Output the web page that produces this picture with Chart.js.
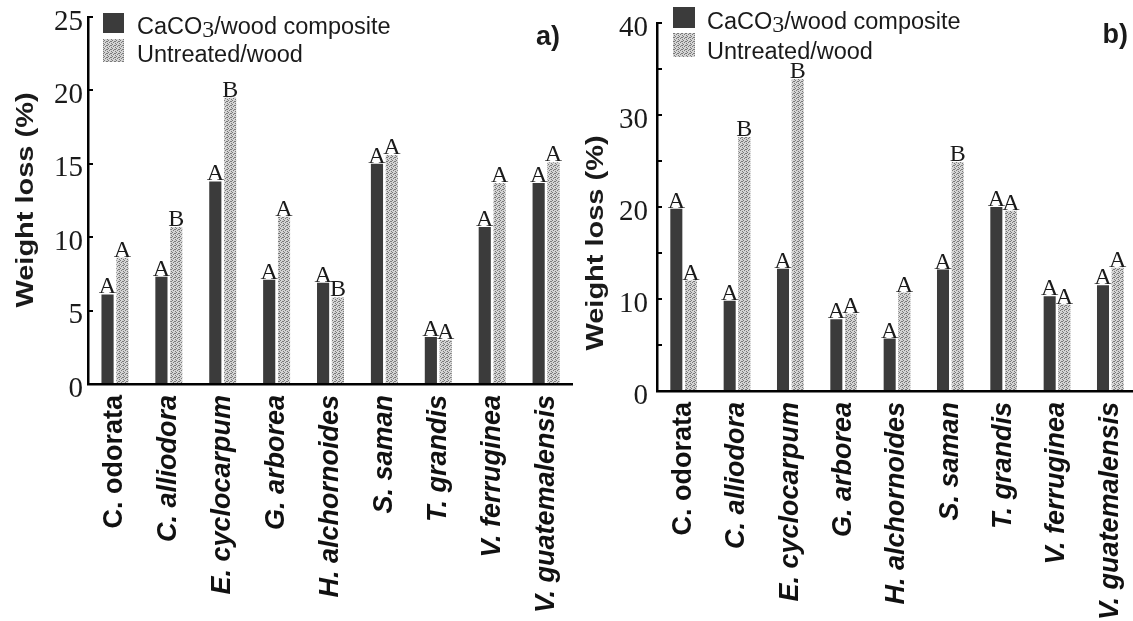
<!DOCTYPE html>
<html>
<head>
<meta charset="utf-8">
<script src="https://cdn.jsdelivr.net/npm/chart.js@4.4.1/dist/chart.umd.min.js"></script>
<style>
  html, body { margin: 0; padding: 0; background: #fff; overflow: hidden; }
  body { width: 1133px; height: 621px; position: relative; }
  .panel { position: absolute; top: 0; height: 621px; }
  #panelA { left: 0; width: 573px; }
  #panelB { left: 575px; width: 562px; }
</style>
</head>
<body>
<div class="panel" id="panelA"><canvas id="chartA"></canvas></div>
<div class="panel" id="panelB"><canvas id="chartB"></canvas></div>
<script>
// species on the x axis (both panels)
const species = ['C. odorata', 'C. alliodora', 'E. cyclocarpum', 'G. arborea', 'H. alchornoides',
                 'S. saman', 'T. grandis', 'V. ferruginea', 'V. guatemalensis'];
const italicLabels = [false, true, true, true, true, true, true, true, true];

const seriesNames = ['CaCO3/wood composite', 'Untreated/wood'];

// panel a) weight loss (%)
const weightLossA_caco3 = [6.1, 7.3, 13.8, 7.1, 6.9, 15.0, 3.2, 10.7, 13.7];
const weightLossA_untreated = [8.6, 10.7, 19.5, 11.4, 5.9, 15.6, 3.0, 13.7, 15.1];
const lettersA_caco3 = ['A', 'A', 'A', 'A', 'A', 'A', 'A', 'A', 'A'];
const lettersA_untreated = ['A', 'B', 'B', 'A', 'B', 'A', 'A', 'A', 'A'];

// panel b) weight loss (%)
const weightLossB_caco3 = [19.8, 9.8, 13.3, 7.8, 5.7, 13.2, 20.0, 10.3, 11.5];
const weightLossB_untreated = [12.0, 27.6, 33.9, 8.4, 10.7, 24.9, 19.6, 9.4, 13.4];
const lettersB_caco3 = ['A', 'A', 'A', 'A', 'A', 'A', 'A', 'A', 'A'];
const lettersB_untreated = ['A', 'B', 'B', 'A', 'A', 'B', 'A', 'A', 'A'];

// y axis ranges: max, tick step, labelled every
const yAxisA = [25, 5, 5];
const yAxisB = [40, 5, 10];

const SANS = '"Liberation Sans", Arial, sans-serif';
const SERIF = '"Liberation Serif", "Times New Roman", serif';
const DARK = '#3b3b3b';

// stippled grey fill for the untreated bars
function makeStipple() {
    const tile = document.createElement('canvas');
    tile.width = 4;
    tile.height = 4;
    const g = tile.getContext('2d');
    g.fillStyle = '#d4d4d4';
    g.fillRect(0, 0, 4, 4);
    g.fillStyle = '#7a7a7a';
    [[0, 0], [2, 1], [1, 2], [3, 3], [3, 1]].forEach(([x, y]) => g.fillRect(x, y, 1, 1));
    return g.createPattern(tile, 'repeat');
}
const stipple = makeStipple();

// letters over bars, legend, axis title and panel tag
const annotatePlugin = {
    id: 'annotate',
    afterDatasetsDraw(chart, args, opts) {
        const ctx = chart.ctx;
        ctx.save();
        ctx.font = '24px ' + SERIF;
        ctx.fillStyle = '#1a1a1a';
        ctx.textAlign = 'center';
        ctx.textBaseline = 'alphabetic';
        opts.letters.forEach((list, di) => {
            chart.getDatasetMeta(di).data.forEach((bar, i) => {
                ctx.fillText(list[i], bar.x, bar.y - 1);
            });
        });
        ctx.restore();
    },
    afterDraw(chart, args, opts) {
        const ctx = chart.ctx;
        const lg = opts.legend;
        ctx.save();

        // legend
        ctx.fillStyle = DARK;
        ctx.fillRect(lg.x, lg.y1, lg.w, lg.h1);
        ctx.fillStyle = stipple;
        ctx.fillRect(lg.x, lg.y2, lg.w, lg.h2);
        ctx.fillStyle = '#1a1a1a';
        ctx.textAlign = 'left';
        ctx.textBaseline = 'alphabetic';
        ctx.font = '23.5px ' + SANS;
        let tx = lg.tx;
        ctx.fillText('CaCO', tx, lg.b1);
        tx += ctx.measureText('CaCO').width;
        ctx.font = '24px ' + SERIF;
        ctx.fillText('3', tx, lg.b1 + 3);
        tx += ctx.measureText('3').width;
        ctx.font = '23.5px ' + SANS;
        ctx.fillText('/wood composite', tx, lg.b1);
        ctx.fillText(seriesNames[1], lg.tx, lg.b2);

        // y axis title, stretched along its length like the original
        ctx.save();
        ctx.translate(opts.title.x, opts.title.y);
        ctx.rotate(-Math.PI / 2);
        ctx.scale(1.26, 1);
        ctx.font = 'bold 23px ' + SANS;
        ctx.textAlign = 'center';
        ctx.textBaseline = 'middle';
        ctx.fillText('Weight loss (%)', 0, 0);
        ctx.restore();

        // panel tag
        ctx.font = 'bold 27px ' + SANS;
        ctx.textAlign = 'right';
        ctx.fillText(opts.tag.text, opts.tag.x, opts.tag.y);
        ctx.restore();
    }
};

function buildChart(id, caco3, untreated, yAxis, layout) {
    const [yMax, yStep, yLabelStep] = yAxis;
    return new Chart(document.getElementById(id).getContext('2d'), {
        type: 'bar',
        data: {
            labels: species,
            datasets: [
                { label: seriesNames[0], data: caco3, backgroundColor: DARK,
                  categoryPercentage: 0.55, barPercentage: 0.82 },
                { label: seriesNames[1], data: untreated, backgroundColor: stipple,
                  categoryPercentage: 0.55, barPercentage: 0.82 }
            ]
        },
        options: {
            responsive: true,
            maintainAspectRatio: false,
            animation: false,
            layout: { padding: { top: layout.top, right: 0, bottom: 0, left: 0 } },
            plugins: {
                legend: { display: false },
                tooltip: { enabled: false },
                annotate: layout.annotate
            },
            scales: {
                x: {
                    grid: { display: false, drawTicks: false },
                    border: { color: '#000', width: 2.5 },
                    ticks: {
                        autoSkip: false,
                        minRotation: 90,
                        maxRotation: 90,
                        padding: 11,
                        color: '#111',
                        font: (c) => ({
                            family: SANS, size: 27, weight: 'bold',
                            style: italicLabels[c.index] ? 'italic' : 'normal'
                        })
                    },
                    afterFit: (s) => {
                        s.height = layout.xHeight;
                        s.paddingLeft = 0;
                        s.paddingRight = 0;
                    }
                },
                y: {
                    min: 0,
                    max: yMax,
                    grid: { drawOnChartArea: false, color: '#000', lineWidth: 2, tickLength: -5 },
                    border: { color: '#000', width: 2.5 },
                    ticks: {
                        stepSize: yStep,
                        padding: layout.tickPad,
                        labelOffset: 5,
                        color: '#1a1a1a',
                        font: { family: SERIF, size: 29 },
                        callback: (v) => (v % yLabelStep === 0 ? v : '')
                    },
                    afterFit: (s) => {
                        s.width = layout.yWidth;
                        s.paddingTop = 0;
                        s.paddingBottom = 0;
                    }
                }
            }
        },
        plugins: [annotatePlugin]
    });
}

buildChart('chartA', weightLossA_caco3, weightLossA_untreated, yAxisA, {
    top: 17, xHeight: 237, yWidth: 88, tickPad: 10,
    annotate: {
        letters: [lettersA_caco3, lettersA_untreated],
        legend: { x: 103, w: 21, y1: 13, h1: 20, y2: 39, h2: 23, tx: 137, b1: 34, b2: 62 },
        title: { x: 27, y: 200 },
        tag: { text: 'a)', x: 560, y: 45 }
    }
});

buildChart('chartB', weightLossB_caco3, weightLossB_untreated, yAxisB, {
    top: 23, xHeight: 230, yWidth: 82, tickPad: 14,
    annotate: {
        letters: [lettersB_caco3, lettersB_untreated],
        legend: { x: 98, w: 22, y1: 7, h1: 21, y2: 33, h2: 24, tx: 132, b1: 29, b2: 59 },
        title: { x: 22, y: 243 },
        tag: { text: 'b)', x: 553, y: 43 }
    }
});
</script>
</body>
</html>
